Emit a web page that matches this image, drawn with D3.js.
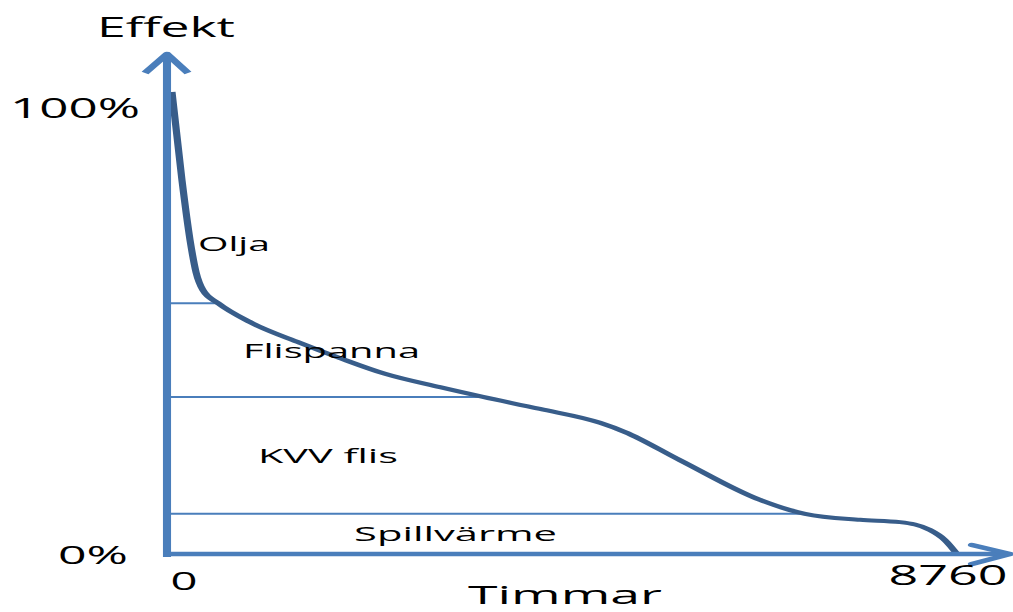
<!DOCTYPE html>
<html>
<head>
<meta charset="utf-8">
<script src="https://cdn.jsdelivr.net/npm/d3@7"></script>
<style>
  body { margin: 0; background: #fff; }
  svg text { font-family: "Open Sans", sans-serif; fill: #000; }
</style>
</head>
<body>
<div class="chart"></div>
<script>
// load duration curve (hours of the year vs % effect)
var hours  = [55, 166, 255, 322, 399, 566, 920, 1475, 1918, 2417, 3027, 3504, 4136, 4802, 5079, 5689, 6576, 6909, 7075, 7685, 8128, 8461, 8627, 8760];
var effect = [100, 80.9, 68, 61, 57.1, 54.3, 50.2, 45.7, 42.4, 39, 36.1, 34, 31.4, 28.4, 26.4, 20.3, 11.7, 9.5, 8.7, 7.4, 6.9, 5.2, 3, 0];

// split levels between the production units
var levelValues = [54.3, 34, 8.7];
var levelEnds   = [566, 3504, 7075];

var unitNames = ['Olja', 'Flispanna', 'KVV flis', 'Spillvärme'];
var xTicks = [0, 8760];
var yTicks = [0, 100];

(() => {
var width = 1013, height = 612;
var S = 1.8; // the drawing is stretched horizontally

var svg = d3.select('div.chart')
    .append('svg')
        .attr('width', width)
        .attr('height', height);

var x = d3.scaleLinear().domain([0, 8760]).range([167, 957]);
var y = d3.scaleLinear().domain([0, 100]).range([554, 92]);
var xs = (v) => x(v) / S;

var blue = '#4a7ebb', dark = '#385d8a';

var g = svg.append('g')
    .attr('transform', 'scale(' + S + ',1)');

// thin level lines
g.selectAll('.level')
    .data(levelValues)
    .enter()
    .append('line')
        .attr('class', 'level')
        .attr('x1', xs(0))
        .attr('x2', (d, i) => xs(levelEnds[i]))
        .attr('y1', (d) => y(d))
        .attr('y2', (d) => y(d))
        .attr('stroke', blue)
        .attr('stroke-width', 2);

var points = hours.map((h, i) => ({h: h, e: effect[i]}));
var line = d3.line()
    .x((d) => xs(d.h))
    .y((d) => y(d.e))
    .curve(d3.curveMonotoneX);

g.append('path')
    .datum(points)
    .attr('d', line)
    .attr('fill', 'none')
    .attr('stroke', dark)
    .attr('stroke-width', 4);

// axis arrows
g.append('line')
    .attr('x1', xs(0)).attr('x2', xs(0))
    .attr('y1', 557).attr('y2', 56)
    .attr('stroke', blue).attr('stroke-width', 4.5);
g.append('polyline')
    .attr('points', [[145 / S, 73], [xs(0), 54], [188 / S, 73]].join(' '))
    .attr('fill', 'none')
    .attr('stroke', blue).attr('stroke-width', 4.5)
    .attr('stroke-linejoin', 'round');

g.append('line')
    .attr('x1', 163 / S).attr('x2', 1008 / S)
    .attr('y1', y(0)).attr('y2', y(0))
    .attr('stroke', blue).attr('stroke-width', 4.5);
g.append('polyline')
    .attr('points', [[972 / S, 545], [1010 / S, y(0)], [972 / S, 564]].join(' '))
    .attr('fill', 'none')
    .attr('stroke', blue).attr('stroke-width', 4.5)
    .attr('stroke-linejoin', 'round')
    .attr('stroke-linecap', 'round');

// tick labels
var yPos = {100: [-27, 25, 130, 28], 0: [-39, 9, 70, 26]};
var yAx = svg.append('g')
    .attr('transform', 'translate(' + x(0) + ',0)')
    .call(d3.axisLeft(y).tickValues(yTicks).tickSize(0).tickFormat((d) => d + '%'));
yAx.select('.domain').remove();
yAx.selectAll('text')
    .attr('x', (d) => yPos[d][0])
    .attr('y', (d) => yPos[d][1])
    .attr('dy', 0)
    .attr('textLength', (d) => yPos[d][2])
    .attr('lengthAdjust', 'spacingAndGlyphs')
    .style('font-size', (d) => yPos[d][3] + 'px')
    .style('font-family', '"Open Sans", sans-serif')
    .attr('fill', '#000');

var xPos = {0: [3, 36, 27, 26], 8760: [-69, 31, 119, 28]};
var xAx = svg.append('g')
    .attr('transform', 'translate(0,' + y(0) + ')')
    .call(d3.axisBottom(x).tickValues(xTicks).tickSize(0).tickFormat(d3.format('d')));
xAx.select('.domain').remove();
xAx.selectAll('text')
    .attr('text-anchor', 'start')
    .attr('x', (d) => xPos[d][0])
    .attr('y', (d) => xPos[d][1])
    .attr('dy', 0)
    .attr('textLength', (d) => xPos[d][2])
    .attr('lengthAdjust', 'spacingAndGlyphs')
    .style('font-size', (d) => xPos[d][3] + 'px')
    .style('font-family', '"Open Sans", sans-serif')
    .attr('fill', '#000');

// axis titles
svg.append('text')
    .attr('x', 97).attr('y', 37)
    .attr('textLength', 138).attr('lengthAdjust', 'spacingAndGlyphs')
    .style('font-size', '27px')
    .text('Effekt');
// sits on the bottom edge in the original, lifted so it is fully visible
svg.append('text')
    .attr('x', 468).attr('y', 604)
    .attr('textLength', 194).attr('lengthAdjust', 'spacingAndGlyphs')
    .style('font-size', '26px')
    .text('Timmar');

// unit labels, placed in data coordinates
var labelAt = [[344, 65.6], [843, 42.4], [1009, 19.7], [2074, 2.8]];
var labelLen = [72, 177, 140, 203];
svg.selectAll('.unit')
    .data(unitNames)
    .enter()
    .append('text')
        .attr('class', 'unit')
        .attr('x', (d, i) => x(labelAt[i][0]))
        .attr('y', (d, i) => y(labelAt[i][1]))
        .attr('textLength', (d, i) => labelLen[i])
        .attr('lengthAdjust', 'spacingAndGlyphs')
        .style('font-size', '20px')
        .text((d) => d);
})();
</script>
</body>
</html>
